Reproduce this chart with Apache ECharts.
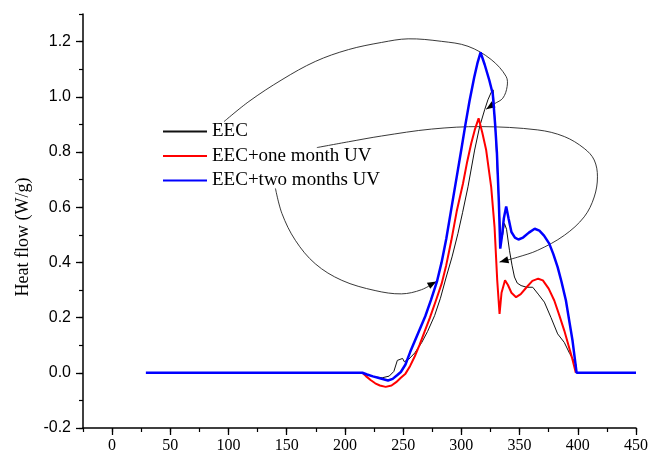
<!DOCTYPE html>
<html>
<head>
<meta charset="utf-8">
<script src="https://cdn.jsdelivr.net/npm/echarts@6/dist/echarts.min.js"></script>
<style>
  html, body { margin: 0; padding: 0; background: #fff; }
  #chart { width: 651px; height: 456px; }
</style>
</head>
<body>
<div id="chart"></div>
<script>
// tick labels
var xTicks = [0, 50, 100, 150, 200, 250, 300, 350, 400, 450];
var yTicks = [-0.2, 0, 0.2, 0.4, 0.6, 0.8, 1.0, 1.2];

var names = ['EEC', 'EEC+one month UV', 'EEC+two months UV'];

// heat flow curves, [temperature, W/g]
var eec = [[215,0],[220,-0.008],[226,-0.015],[232,-0.018],[238,-0.012],[242,0.005],[245,0.045],
  [246.5,0.052],[249.5,0.052],[251,0.04],[255,0.05],[260,0.072],[266,0.11],[271,0.15],[277,0.207],
  [282,0.27],[287,0.347],[292,0.42],[297,0.504],[301,0.58],[305.7,0.674],[311.4,0.807],[315.7,0.892],
  [320,0.953],[322.8,0.989],[325.5,1.015],[327.3,1.025],[329,0.9],[331,0.72],[333,0.55],[334.2,0.48],
  [335.5,0.5],[337,0.541],[338.8,0.52],[341.3,0.444],[343.5,0.39],[345.6,0.347],[348,0.325],
  [351.3,0.316],[356,0.31],[361.3,0.31],[366,0.285],[371.3,0.256],[377,0.2],[382.7,0.141],
  [388.4,0.11],[393,0.07],[398.3,0.032],[399,0]];

var uv1 = [[215,0],[218,-0.012],[222,-0.026],[226,-0.038],[230,-0.046],[235,-0.051],[240,-0.046],
  [244,-0.034],[248,-0.018],[252,-0.003],[256,0.025],[260,0.06],[264,0.1],[268,0.145],[273,0.2],
  [278,0.26],[283,0.322],[287,0.39],[291.4,0.48],[296,0.585],[301.4,0.686],[305,0.765],[308.5,0.832],
  [311.5,0.88],[314.8,0.922],[318,0.87],[321.3,0.807],[325.6,0.674],[328.5,0.528],[330.8,0.335],
  [332.8,0.213],[334.5,0.29],[337.5,0.335],[340,0.318],[343,0.29],[347,0.274],[351,0.285],[356,0.31],
  [361,0.333],[366,0.341],[370,0.335],[375,0.305],[379.8,0.262],[384,0.21],[388.4,0.153],[392,0.1],
  [395,0.055],[398.3,0]];

var uv2 = [[29,0],[215,0],[219,-0.006],[224,-0.013],[230,-0.02],[237,-0.028],[241,-0.022],[245,-0.008],
  [248,0.003],[252,0.03],[256,0.075],[260,0.115],[264,0.155],[269,0.205],[274,0.265],[279,0.33],
  [283,0.4],[287,0.485],[291,0.585],[296,0.71],[300,0.81],[303.5,0.9],[307,0.985],[311,1.07],
  [314,1.125],[316.5,1.161],[320,1.117],[324,1.06],[327,1.01],[329,0.9],[330.5,0.8],[332.2,0.62],
  [333.4,0.45],[335,0.5],[336.5,0.56],[338.5,0.603],[340.5,0.56],[343,0.51],[346,0.49],[349,0.483],
  [353,0.49],[358,0.508],[363,0.522],[367,0.515],[371,0.497],[375.5,0.468],[379,0.43],[382.7,0.383],
  [386,0.33],[389.8,0.262],[393,0.18],[395.5,0.116],[399,0],[450,0]];

// leader lines from the legend to the curves (in data units, last point = arrow tip)
var leadEEC = [[96.1,0.910],[117.5,0.983],[145.9,1.062],[174.5,1.128],[203,1.171],[231.5,1.197],
  [254.3,1.210],[282.8,1.201],[305.7,1.183],[325.6,1.135],[338.4,1.074],[339.3,1.037],[335.6,0.995],
  [328.5,0.975],[321.3,0.955]];
var leadUV1 = [[175.9,0.816],[203,0.837],[231.5,0.858],[274.3,0.883],[317,0.892],[365.6,0.880],
  [388.4,0.856],[405.5,0.813],[414.1,0.771],[416.9,0.710],[414.1,0.637],[405.5,0.565],[388.4,0.498],
  [365.6,0.444],[348.4,0.419],[332.8,0.401]];
var leadUV2 = [[140.3,0.668],[145.9,0.577],[157.4,0.480],[174.5,0.395],[197.3,0.335],[225.9,0.298],
  [248.6,0.286],[265.7,0.301],[278.6,0.331]];

var serif = 'Liberation Serif';
var sans = 'Liberation Sans';

var chart = echarts.init(document.getElementById('chart'));

var option = {
  animation: false,
  backgroundColor: '#fff',
  grid: { left: 83, right: 12, top: 14, bottom: 28 },
  legend: {
    orient: 'vertical',
    left: 157,
    top: 117,
    itemWidth: 44,
    itemHeight: 14,
    itemGap: 5.5,
    itemStyle: { opacity: 0 },
    textStyle: { fontFamily: serif, fontSize: 19, color: '#000' },
    data: names
  },
  xAxis: [{
    type: 'value', min: -25, max: 450, interval: 25,
    position: 'bottom',
    axisLine: { onZero: false, lineStyle: { color: '#000', width: 1.5 } },
    axisTick: { length: 7, customValues: xTicks, lineStyle: { color: '#000', width: 1.3 } },
    axisLabel: { customValues: xTicks, margin: 10, fontFamily: serif, fontSize: 16, color: '#000' },
    splitLine: { show: false }
  }, {
    type: 'value', min: -25, max: 450, interval: 25,
    position: 'bottom',
    axisLine: { show: false, onZero: false },
    axisTick: { length: 4, lineStyle: { color: '#000', width: 1.2 } },
    axisLabel: { show: false },
    splitLine: { show: false }
  }],
  yAxis: [{
    type: 'value', min: -0.2, max: 1.3, interval: 0.1,
    position: 'left',
    axisLine: { show: true, onZero: false, lineStyle: { color: '#000', width: 1.5 } },
    axisTick: { show: true, length: 7, customValues: yTicks, lineStyle: { color: '#000', width: 1.3 } },
    axisLabel: {
      customValues: yTicks, margin: 12, fontFamily: sans, fontSize: 16, color: '#000',
      formatter: function (v) { return v.toFixed(1); }
    },
    splitLine: { show: false }
  }, {
    type: 'value', min: -0.2, max: 1.3, interval: 0.1,
    position: 'left',
    axisLine: { show: false, onZero: false },
    axisTick: { show: true, length: 4, lineStyle: { color: '#000', width: 1.2 } },
    axisLabel: { show: false },
    splitLine: { show: false }
  }],
  series: [
    { name: names[0], type: 'line', data: eec, symbol: 'none', silent: true,
      lineStyle: { color: '#111', width: 1 }, itemStyle: { color: '#111' } },
    { name: names[1], type: 'line', data: uv1, symbol: 'none', silent: true,
      lineStyle: { color: '#ff0000', width: 2 }, itemStyle: { color: '#ff0000' } },
    { name: names[2], type: 'line', data: uv2, symbol: 'none', silent: true,
      lineStyle: { color: '#0000ff', width: 2.5 }, itemStyle: { color: '#0000ff' } }
  ]
};

chart.setOption(option);

function toPx(p) {
  return chart.convertToPixel({ xAxisIndex: 0, yAxisIndex: 0 }, p);
}

function leader(pts) {
  var px = pts.map(toPx);
  var a = px[px.length - 2], b = px[px.length - 1];
  var ang = Math.atan2(b[1] - a[1], b[0] - a[0]);
  var L = 9, W = 3.5;
  var bx = b[0] - L * Math.cos(ang), by = b[1] - L * Math.sin(ang);
  var head = [
    [b[0], b[1]],
    [bx - W * Math.sin(ang), by + W * Math.cos(ang)],
    [bx + W * Math.sin(ang), by - W * Math.cos(ang)]
  ];
  return [
    { type: 'polyline', silent: true, shape: { points: px, smooth: 0.35 },
      style: { stroke: '#222', lineWidth: 0.9, fill: 'none' } },
    { type: 'polygon', silent: true, shape: { points: head }, style: { fill: '#000' } }
  ];
}

var g = [].concat(leader(leadEEC), leader(leadUV1), leader(leadUV2));
g.push({
  type: 'text', x: 23, y: 237, rotation: Math.PI / 2, silent: true,
  style: {
    text: 'Heat flow (W/g)', fontFamily: serif, fontSize: 18, fill: '#000',
    align: 'center', verticalAlign: 'middle'
  }
});
chart.setOption({ graphic: g });
</script>
</body>
</html>
